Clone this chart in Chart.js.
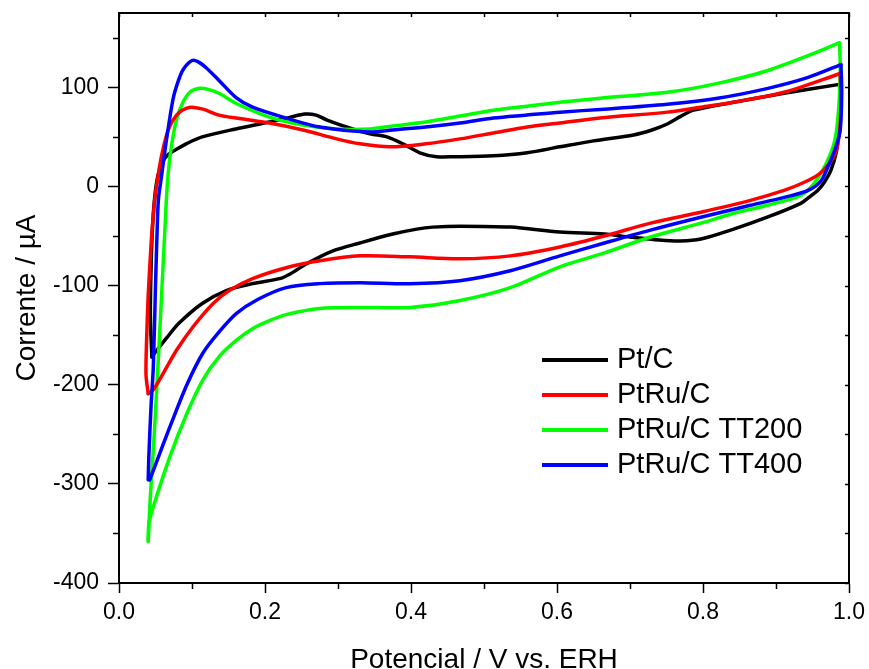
<!DOCTYPE html>
<html>
<head>
<meta charset="utf-8">
<script src="https://cdn.jsdelivr.net/npm/chart.js@4.4.0/dist/chart.umd.min.js"></script>
<style>
html,body{margin:0;padding:0;background:#fff;}
#wrap{width:869px;height:669px;}
</style>
</head>
<body>
<div id="wrap"><canvas id="c" width="869" height="669"></canvas></div>
<script>
// ---------------- DATA ----------------
const seriesNames = ['Pt/C', 'PtRu/C', 'PtRu/C TT200', 'PtRu/C TT400'];
const xTickValues = [0.0, 0.2, 0.4, 0.6, 0.8, 1.0];
const yTickValues = [-400, -300, -200, -100, 0, 100];

// Pt/C
const ptc_an_E = [0.045,0.043,0.044,0.046,0.049,0.053,0.059,0.067,0.080,0.092,0.114,0.160,0.206,0.235,0.255,0.270,0.285,0.320,0.345,0.367,0.389,0.412,0.435,0.460,0.513,0.559,0.604,0.650,0.705,0.730,0.751,0.770,0.787,0.842,0.911,0.987];
const ptc_an_I = [-172,-130,-80,-40,-10,10,24,32,38,43,50,58,65,70,73,72,67,58,53,50,43,34,30,30,31,34,40,46,52,57,63,71,77,85,94,103];
const ptc_ca_E = [0.987,0.988,0.986,0.983,0.975,0.965,0.957,0.945,0.934,0.888,0.842,0.797,0.769,0.740,0.700,0.665,0.604,0.536,0.467,0.430,0.408,0.375,0.330,0.293,0.257,0.235,0.220,0.183,0.147,0.114,0.082,0.065,0.050,0.045];
const ptc_ca_I = [103,80,55,36,16,3,-4,-11,-17,-31,-43,-53,-55,-54,-51,-48,-46,-41,-40,-41,-43,-48,-57,-65,-78,-88,-93,-98,-105,-118,-138,-153,-167,-172];

// PtRu/C
const ptru_an_E = [0.040,0.037,0.038,0.040,0.043,0.045,0.049,0.052,0.056,0.061,0.067,0.074,0.083,0.093,0.100,0.115,0.137,0.160,0.206,0.252,0.298,0.330,0.371,0.420,0.467,0.513,0.559,0.604,0.659,0.751,0.797,0.842,0.911,0.988];
const ptru_an_I = [-209,-190,-150,-110,-70,-47,-13,3,22,40,56,67,75,79,80,78,72,69,64,57,48,43,40,43,48,54,60,64,69,75,80,85,95,114];
const ptru_ca_E = [0.988,0.989,0.987,0.982,0.972,0.958,0.938,0.911,0.865,0.797,0.728,0.665,0.604,0.536,0.467,0.398,0.330,0.275,0.229,0.183,0.151,0.129,0.102,0.079,0.061,0.047,0.040];
const ptru_ca_I = [114,85,55,35,22,12,4,-4,-14,-26,-37,-50,-61,-70,-73,-71,-70,-75,-82,-93,-105,-118,-141,-165,-188,-205,-209];

// PtRu/C TT200
const tt200_an_E = [0.040,0.041,0.044,0.0475,0.052,0.058,0.0626,0.066,0.069,0.073,0.079,0.087,0.097,0.110,0.122,0.137,0.160,0.206,0.252,0.298,0.343,0.375,0.420,0.467,0.513,0.559,0.604,0.659,0.751,0.820,0.889,0.944,0.987];
const tt200_an_I = [-358,-340,-300,-260,-200,-115,-47,0,25,46,68,84,95,99,98,94,84,70,62,58,58,61,65,71,77,81,85,89,95,104,117,132,145];
const tt200_ca_E = [0.987,0.988,0.986,0.981,0.970,0.952,0.934,0.888,0.842,0.797,0.728,0.665,0.604,0.536,0.467,0.398,0.330,0.275,0.230,0.207,0.184,0.161,0.138,0.115,0.093,0.070,0.047,0.041,0.040];
const tt200_ca_I = [145,120,80,48,25,3,-9,-19,-27,-37,-51,-67,-81,-102,-115,-122,-122,-123,-129,-135,-143,-155,-171,-195,-229,-272,-323,-340,-358];

// PtRu/C TT400
const tt400_an_E = [0.040,0.041,0.044,0.047,0.050,0.052,0.054,0.058,0.065,0.074,0.081,0.088,0.100,0.108,0.119,0.137,0.160,0.183,0.229,0.275,0.343,0.375,0.420,0.467,0.513,0.559,0.604,0.665,0.751,0.820,0.889,0.944,0.989];
const tt400_an_I = [-296,-270,-220,-182,-100,-50,-13,9,47,88,106,118,127,126,120,107,90,80,69,60,55,57,60,64,69,72,75,78,83,89,99,110,123];
const tt400_ca_E = [0.989,0.990,0.988,0.982,0.974,0.962,0.944,0.911,0.865,0.797,0.728,0.665,0.604,0.536,0.467,0.398,0.330,0.275,0.229,0.190,0.161,0.138,0.115,0.093,0.070,0.056,0.042];
const tt400_ca_I = [123,95,57,40,25,6,-4,-11,-19,-31,-44,-57,-70,-85,-95,-98,-97,-98,-102,-114,-128,-146,-168,-200,-242,-269,-296];

// ---------------- BUILD ----------------
const FONT = 'Arial, "Liberation Sans", Helvetica, sans-serif';
const colors = ['#000000', '#ff0000', '#00ff00', '#0000ff'];
const drawOrder = [4, 2, 3, 1]; // lower = drawn on top

const sweeps = [
  [ptc_an_E, ptc_an_I, ptc_ca_E, ptc_ca_I],
  [ptru_an_E, ptru_an_I, ptru_ca_E, ptru_ca_I],
  [tt200_an_E, tt200_an_I, tt200_ca_E, tt200_ca_I],
  [tt400_an_E, tt400_an_I, tt400_ca_E, tt400_ca_I]
];
const toPts = (E, I) => E.map((e, i) => ({x: e, y: I[i]}));

const datasets = [];
sweeps.forEach((s, k) => {
  [[s[0], s[1], true], [s[2], s[3], false]].forEach(([E, I, leg]) => {
    datasets.push({
      label: seriesNames[k],
      data: toPts(E, I),
      showLine: true,
      borderColor: colors[k],
      backgroundColor: colors[k],
      borderWidth: 3.5,
      borderJoinStyle: 'round',
      borderCapStyle: 'round',
      pointRadius: 0,
      tension: 0.3,
      fill: false,
      order: drawOrder[k],
      inLegend: leg
    });
  });
});

const isMajorX = v => Math.abs(Math.round(v * 10) % 2) === 0;
const isMajorY = v => Math.round(v) % 100 === 0;

const decor = {
  id: 'decor',
  afterDraw(chart) {
    const {ctx, chartArea: a, scales: {x, y}} = chart;
    ctx.save();
    ctx.strokeStyle = '#000';
    ctx.lineWidth = 2;
    ctx.beginPath();
    ctx.moveTo(a.left, a.top); ctx.lineTo(a.right, a.top); ctx.lineTo(a.right, a.bottom);
    ctx.stroke();
    ctx.lineWidth = 1.5;
    ctx.beginPath();
    x.ticks.forEach(t => {
      const px = Math.round(x.getPixelForValue(t.value)) + 0.5;
      if (!isMajorX(t.value)) { ctx.moveTo(px, a.bottom); ctx.lineTo(px, a.bottom + 6); }
      ctx.moveTo(px, a.top); ctx.lineTo(px, a.top + 4);
    });
    y.ticks.forEach(t => {
      const py = Math.round(y.getPixelForValue(t.value)) + 0.5;
      if (!isMajorY(t.value)) { ctx.moveTo(a.left, py); ctx.lineTo(a.left - 6, py); }
      ctx.moveTo(a.right, py); ctx.lineTo(a.right - 4, py);
    });
    ctx.stroke();
    // legend
    const lx0 = 542, lx1 = 608, tx = 617, ly0 = 360, dy = 35;
    ctx.font = '29px ' + FONT;
    ctx.textBaseline = 'middle';
    ctx.fillStyle = '#000';
    let row = 0;
    chart.data.datasets.forEach(ds => {
      if (!ds.inLegend) return;
      const ly = ly0 + row * dy;
      ctx.strokeStyle = ds.borderColor;
      ctx.lineWidth = 4;
      ctx.beginPath(); ctx.moveTo(lx0, ly); ctx.lineTo(lx1, ly); ctx.stroke();
      ctx.fillText(ds.label, tx, ly);
      row++;
    });
    ctx.restore();
  }
};

new Chart(document.getElementById('c'), {
  type: 'scatter',
  data: {datasets},
  plugins: [decor],
  options: {
    responsive: false,
    animation: false,
    devicePixelRatio: 1,
    layout: {padding: {top: 13, right: 20, left: 0, bottom: 0}},
    plugins: {legend: {display: false}, tooltip: {enabled: false}},
    scales: {
      x: {
        type: 'linear', min: 0, max: 1,
        border: {display: true, color: '#000', width: 2},
        grid: {drawOnChartArea: false, drawTicks: true, tickLength: 10, tickWidth: 1.5,
               tickColor: c => isMajorX(c.tick.value) ? '#000' : 'rgba(0,0,0,0)'},
        ticks: {stepSize: 0.1, autoSkip: false, maxRotation: 0, color: '#000', padding: 6,
                font: {family: FONT, size: 23},
                callback: v => (isMajorX(v) && xTickValues.some(t => Math.abs(t - v) < 1e-6)) ? v.toFixed(1) : ''},
        title: {display: true, text: 'Potencial / V vs. ERH', color: '#000',
                font: {family: FONT, size: 28, lineHeight: 0.6}, padding: {top: 0, bottom: 0}},
        afterFit: s => { s.height = 86; s.paddingLeft = 0; s.paddingRight = 0; }
      },
      y: {
        type: 'linear', min: -400, max: 175,
        border: {display: true, color: '#000', width: 2},
        grid: {drawOnChartArea: false, drawTicks: true, tickLength: 11, tickWidth: 1.5,
               tickColor: c => isMajorY(c.tick.value) ? '#000' : 'rgba(0,0,0,0)'},
        ticks: {stepSize: 50, includeBounds: false, autoSkip: false, color: '#000', padding: 9,
                font: {family: FONT, size: 23},
                callback: v => yTickValues.includes(v) ? String(v) : ''},
        title: {display: true, text: 'Corrente / \u00B5A', color: '#000',
                font: {family: FONT, size: 28}, padding: {top: 10, bottom: 0}},
        afterFit: s => { s.width = 119; s.paddingTop = 0; s.paddingBottom = 0; }
      }
    }
  }
});
</script>
</body>
</html>
